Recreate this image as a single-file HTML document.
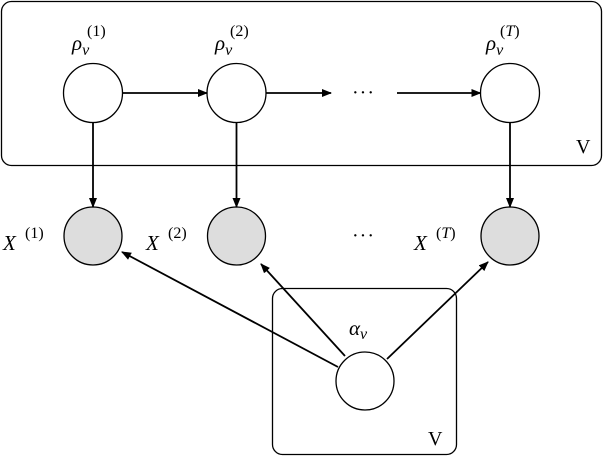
<!DOCTYPE html>
<html><head><meta charset="utf-8"><style>body{margin:0;background:#fff}</style></head><body>
<svg width="604" height="456" viewBox="0 0 604 456" xmlns="http://www.w3.org/2000/svg" font-family="Liberation Serif, serif">
<defs><marker id="a" markerWidth="10" markerHeight="8" refX="9" refY="4" orient="auto" markerUnits="userSpaceOnUse"><path d="M0,0 L10,4 L0,8 z" fill="#000"/></marker></defs>
<rect x="1.5" y="1.5" width="600" height="164" rx="10" fill="none" stroke="#000" stroke-width="1.3"/>
<rect x="272.5" y="288.5" width="184" height="166" rx="10" fill="none" stroke="#000" stroke-width="1.3"/>
<text x="576" y="153" font-size="20">V</text>
<text x="428" y="445" font-size="20">V</text>
<g stroke="#000" stroke-width="1.3">
<circle cx="93" cy="93" r="29.5" fill="#fff"/>
<circle cx="236.5" cy="93" r="29.5" fill="#fff"/>
<circle cx="510" cy="93" r="29.5" fill="#fff"/>
<circle cx="93" cy="236" r="29" fill="#ddd"/>
<circle cx="236.5" cy="236" r="29" fill="#ddd"/>
<circle cx="510" cy="236" r="29" fill="#ddd"/>
<circle cx="365" cy="381" r="29" fill="#fff"/>
</g>
<g stroke="#000" stroke-width="1.8" marker-end="url(#a)">
<line x1="122.5" y1="93" x2="207" y2="93"/>
<line x1="266" y1="93" x2="331" y2="93"/>
<line x1="397" y1="93" x2="480.5" y2="93"/>
<line x1="93" y1="122.5" x2="93" y2="207"/>
<line x1="236.5" y1="122.5" x2="236.5" y2="207"/>
<line x1="510" y1="122.5" x2="510" y2="207"/>
<line x1="338" y1="367" x2="122" y2="252"/>
<line x1="345" y1="356" x2="261" y2="264"/>
<line x1="387" y1="359" x2="488" y2="262"/>
</g>
<text x="352" y="99" font-size="20" letter-spacing="1">···</text>
<text x="352" y="242" font-size="20" letter-spacing="1">···</text>
<g font-style="italic" font-size="21">
<text x="72" y="50">ρ<tspan font-size="16" dy="5">v</tspan></text>
<text x="215" y="50">ρ<tspan font-size="16" dy="5">v</tspan></text>
<text x="486" y="50">ρ<tspan font-size="16" dy="5">v</tspan></text>
<text x="349" y="335">α<tspan font-size="16" dy="4">v</tspan></text>
<text x="3" y="250">X</text>
<text x="146" y="250">X</text>
<text x="414" y="250">X</text>
</g>
<g font-size="16">
<text x="87" y="36">(1)</text>
<text x="230" y="36">(2)</text>
<text x="500" y="36">(<tspan font-style="italic">T</tspan>)</text>
<text x="25" y="238">(1)</text>
<text x="168" y="238">(2)</text>
<text x="436" y="238">(<tspan font-style="italic">T</tspan>)</text>
</g>
</svg>
</body></html>
